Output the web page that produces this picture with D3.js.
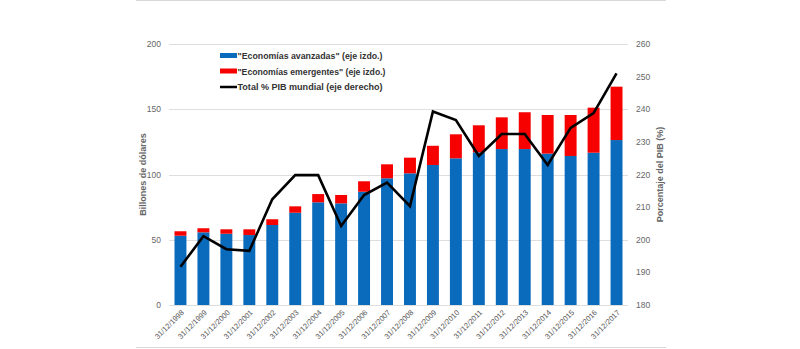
<!DOCTYPE html>
<html><head><meta charset="utf-8">
<script src="https://cdn.jsdelivr.net/npm/d3@7"></script>
<style>body{margin:0;background:#fff}svg{display:block;font-family:"Liberation Sans",Arial,sans-serif}</style>
</head><body><svg id="c" width="800" height="349"></svg>
<script>
const categories = ["31/12/1998","31/12/1999","31/12/2000","31/12/2001","31/12/2002","31/12/2003","31/12/2004","31/12/2005","31/12/2006","31/12/2007","31/12/2008","31/12/2009","31/12/2010","31/12/2011","31/12/2012","31/12/2013","31/12/2014","31/12/2015","31/12/2016","31/12/2017"];
const advanced = [53.1,55.7,54.6,53.6,61.3,70.7,78.7,77.9,86.8,97.1,100.9,107.3,112.4,117,119.5,119.5,116,114.2,116.7,126.4];
const emerging = [3.4,3.1,3.4,4.4,4.4,4.9,6.3,6.4,8.0,10.7,12.0,14.7,18.4,20.7,24.3,28.2,29.6,31.4,34.5,40.9];
const totalPct = [191.7,201.1,197.1,196.6,212.4,219.8,219.8,204.2,213.7,217.5,210.3,239.3,236.7,225.7,232.4,232.4,222.9,234.3,238.8,251];
const leftTicks = [0,50,100,150,200];
const rightTicks = [180,190,200,210,220,230,240,250,260];
const legendLabels = ['"Economías avanzadas" (eje izdo.)','"Economías emergentes" (eje izdo.)','Total % PIB mundial (eje derecho)'];

const svg = d3.select("#c");
const L = 169, R = 628, T = 44, B = 305;
const x = d3.scaleBand().domain(categories).range([L, R]).paddingInner(0.48).paddingOuter(0.24);
const yL = d3.scaleLinear().domain([0,200]).range([B, T]);
const yR = d3.scaleLinear().domain([180,260]).range([B, T]);

// frame lines
svg.append("line").attr("x1",136).attr("x2",666).attr("y1",0.5).attr("y2",0.5).attr("stroke","#d8d8d8");
svg.append("line").attr("x1",136).attr("x2",666).attr("y1",347.5).attr("y2",347.5).attr("stroke","#d8d8d8");

// gridlines
svg.append("g").selectAll("line").data(leftTicks).join("line")
  .attr("x1",L).attr("x2",R).attr("y1",d=>Math.round(yL(d))+0.5).attr("y2",d=>Math.round(yL(d))+0.5)
  .attr("stroke","#dedede").attr("stroke-width",1);

// left axis labels
svg.append("g").selectAll("text").data(leftTicks).join("text")
  .attr("x",161).attr("y",d=>yL(d)+3).attr("text-anchor","end")
  .attr("font-size",8.5).attr("fill","#666").text(d=>d);
// right axis labels
svg.append("g").selectAll("text").data(rightTicks).join("text")
  .attr("x",636).attr("y",d=>yR(d)+3).attr("text-anchor","start")
  .attr("font-size",8.5).attr("fill","#666").text(d=>d);

// axis titles
svg.append("text").attr("transform",`translate(146,${(T+B)/2}) rotate(-90)`).attr("text-anchor","middle")
  .attr("font-size",9).attr("font-weight","bold").attr("fill","#666").text("Billones de dólares");
svg.append("text").attr("transform",`translate(663,${(T+B)/2}) rotate(-90)`).attr("text-anchor","middle")
  .attr("font-size",9).attr("font-weight","bold").attr("fill","#666").text("Porcentaje del PIB (%)");

// bars
const g = svg.append("g");
g.selectAll("rect.adv").data(categories).join("rect").attr("class","adv")
  .attr("x",d=>x(d)).attr("width",x.bandwidth())
  .attr("y",(d,i)=>yL(advanced[i])).attr("height",(d,i)=>yL(0)-yL(advanced[i]))
  .attr("fill","#0a6bbd");
g.selectAll("rect.em").data(categories).join("rect").attr("class","em")
  .attr("x",d=>x(d)).attr("width",x.bandwidth())
  .attr("y",(d,i)=>yL(advanced[i]+emerging[i])).attr("height",(d,i)=>yL(advanced[i])-yL(advanced[i]+emerging[i]))
  .attr("fill","#f60000");

// line
const line = d3.line().x((d,i)=>x(categories[i])+x.bandwidth()/2).y(d=>yR(d));
svg.append("path").datum(totalPct).attr("d",line).attr("fill","none")
  .attr("stroke","#000").attr("stroke-width",2.6).attr("stroke-linejoin","miter");

// x labels
svg.append("g").selectAll("text").data(categories).join("text")
  .attr("transform",d=>`translate(${x(d)+x.bandwidth()/2+4},${B+8}) rotate(-45)`)
  .attr("text-anchor","end").attr("font-size",7.5).attr("fill","#555").text(d=>d);

// legend
const lg = svg.append("g");
const colors = ["#0a6bbd","#f60000","#000"];
legendLabels.forEach((t,i)=>{
  const yy = 56 + i*15.5;
  if (i<2) lg.append("rect").attr("x",220).attr("y",yy-3).attr("width",17).attr("height",5).attr("fill",colors[i]);
  else lg.append("line").attr("x1",220).attr("x2",237).attr("y1",yy).attr("y2",yy).attr("stroke","#000").attr("stroke-width",2.5);
  lg.append("text").attr("x",237.5).attr("y",yy+3.3).attr("font-size",9).attr("font-weight","bold").attr("fill","#333")
    .attr("textLength", i===0?145:(i===1?148:145)).attr("lengthAdjust","spacingAndGlyphs").text(t);
});
</script></body></html>
